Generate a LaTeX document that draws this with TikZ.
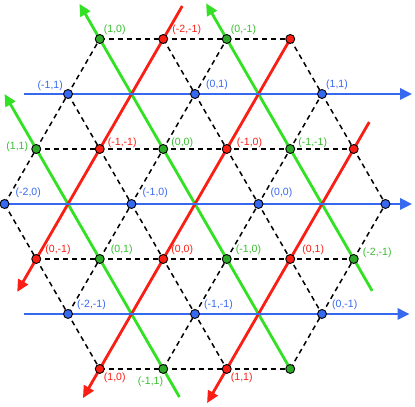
\documentclass[tikz,border=0pt]{standalone}
\usepackage{fontspec}
\setmainfont{Liberation Sans}
\usetikzlibrary{arrows.meta}

\definecolor{blu}{RGB}{55,105,240}
\definecolor{grn}{RGB}{50,225,35}
\definecolor{grndot}{RGB}{45,170,40}
\definecolor{grntxt}{RGB}{55,190,45}
\definecolor{rd}{RGB}{250,30,20}

\tikzset{
  gridedge/.style={black, line width=1.5pt, dash pattern=on 5pt off 4pt},
  ray/.style={line width=2.8pt, -{Triangle[length=12pt,width=11pt]}},
  dot/.style={circle, draw=black, line width=0.9pt, inner sep=0pt, minimum size=9pt},
  dotb/.style={dot, fill=blu},
  dotg/.style={dot, fill=grndot},
  dotr/.style={dot, fill=rd},
  lab/.style={font=\fontsize{10.5}{12}\selectfont, inner sep=0pt},
  labb/.style={lab, text=blu},
  labg/.style={lab, text=grntxt},
  labr/.style={lab, text=rd},
}

\begin{document}
\begin{tikzpicture}[x=63.5pt, y=55pt]
  \useasboundingbox (-3.071,-3.691) rectangle (3.465,3.709);
  % ── puntos de la red: filas a (arriba) ... g (abajo) ──
  \foreach \row/\k in {a/3,b/2,c/1,d/0,e/-1,f/-2,g/-3} {
    \pgfmathtruncatemacro\last{6-abs(\k)}
    \foreach \j in {0,...,\last}
      \coordinate (\row\j) at ({-3+abs(\k)/2+\j}, \k);
  }
  % ── aristas punteadas ──
  \foreach \u/\v in {a0/a3, c0/c5, e0/e5, g0/g3, d0/a0, f0/a2, g1/b4, g3/d6,
                     d0/g0, b0/g2, a1/f4, a3/d6}
    \draw[gridedge] (\u) -- (\v);
  % ── extremos libres de las rectas de color ──
  \coordinate (gA) at (-0.245,-3.51); \coordinate (gA') at (-3,2);
  \coordinate (gB') at (-1.82,3.64);
  \coordinate (gC) at (2.79,-1.58);   \coordinate (gC') at (0.175,3.65);
  \coordinate (rA) at (-0.2,3.6);     \coordinate (rA') at (-2.8,-1.6);
  \coordinate (rB') at (-1.765,-3.53);
  \coordinate (rC) at (2.745,1.49);   \coordinate (rC') at (0.19,-3.62);
  \coordinate (bA) at (-2.69,2);      \coordinate (bA') at (3.42,2);
  \coordinate (bB') at (3.42,0);
  \coordinate (bC) at (-2.69,-2);     \coordinate (bC') at (3.38,-2);
  % ── rectas verdes, rojas y azules ──
  \draw[ray, grn] (gA) -- (gA');
  \draw[ray, grn] (g3) -- (gB');
  \draw[ray, grn] (gC) -- (gC');
  \draw[ray, rd] (rA) -- (rA');
  \draw[ray, rd] (a3) -- (rB');
  \draw[ray, rd] (rC) -- (rC');
  \draw[ray, blu] (bA) -- (bA');
  \draw[ray, blu] (d0) -- (bB');
  \draw[ray, blu] (bC) -- (bC');
  % ── puntos ──
  \foreach \p/\s in {a0/dotg, a1/dotr, a2/dotg, a3/dotr, b0/dotb, b2/dotb, b4/dotb,
                     c0/dotg, c1/dotr, c2/dotg, c3/dotr, c4/dotg, c5/dotr,
                     d0/dotb, d2/dotb, d4/dotb, d6/dotb,
                     e0/dotr, e1/dotg, e2/dotr, e3/dotg, e4/dotr, e5/dotg,
                     f0/dotb, f2/dotb, f4/dotb, g0/dotr, g1/dotg, g2/dotr, g3/dotg}
    \node[\s] (n\p) at (\p) {};
  % ── etiquetas ──
  \foreach \p/\s/\txt/\anc/\pos in {
      a0/labg/{(1,0)}/west/{4pt,9pt},     a1/labr/{(-2,-1)}/west/{9pt,9pt},
      a2/labg/{(0,-1)}/west/{4pt,9pt},
      b0/labb/{(-1,1)}/east/{-5pt,8pt},   b2/labb/{(0,1)}/west/{11pt,9pt},
      b4/labb/{(1,1)}/west/{4pt,9pt},
      c0/labg/{(1,1)}/east/{-8pt,2pt},    c1/labr/{(-1,-1)}/west/{8pt,6pt},
      c2/labg/{(0,0)}/west/{8pt,6pt},     c3/labr/{(-1,0)}/west/{10pt,6pt},
      c4/labg/{(-1,-1)}/west/{8pt,6pt},
      d0/labb/{(-2,0)}/west/{11pt,11pt},  d2/labb/{(-1,0)}/west/{11pt,11pt},
      d4/labb/{(0,0)}/west/{12pt,11pt},
      e0/labr/{(0,-1)}/west/{9pt,9pt},    e1/labg/{(0,1)}/west/{11pt,9pt},
      e2/labr/{(0,0)}/west/{8pt,9pt},     e3/labg/{(-1,0)}/west/{9pt,9pt},
      e4/labr/{(0,1)}/west/{12pt,9pt},    e5/labg/{(-2,-1)}/west/{9pt,6pt},
      f0/labb/{(-2,-1)}/west/{9pt,9pt},   f2/labb/{(-1,-1)}/west/{9pt,9pt},
      f4/labb/{(0,-1)}/west/{10pt,9pt},
      g0/labr/{(1,0)}/west/{4pt,-9pt},    g1/labg/{(-1,1)}/east/{0pt,-13pt},
      g2/labr/{(1,1)}/west/{4pt,-9pt}}
    \node[\s, anchor=\anc] (t\p) at ([shift={(\pos)}]\p) {\txt};
\end{tikzpicture}
\end{document}
